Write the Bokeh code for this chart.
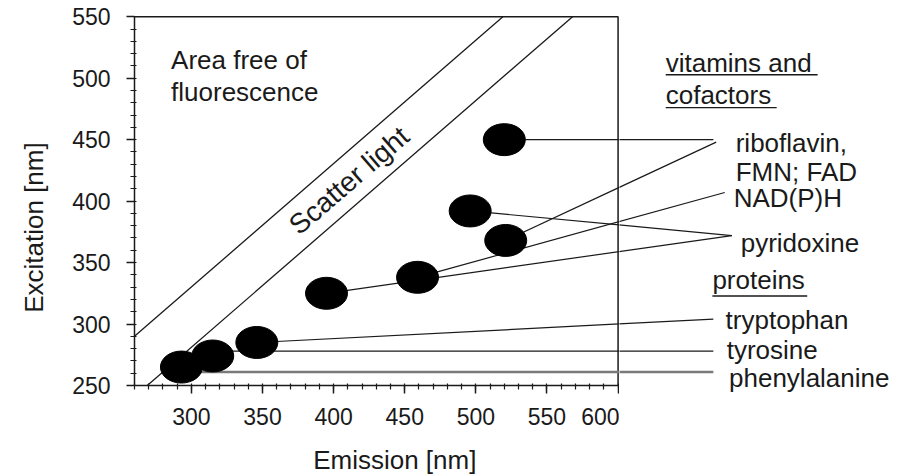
import math
from bokeh.plotting import figure
from bokeh.layouts import row, column
from bokeh.models import Range1d, SingleIntervalTicker, Label
from bokeh.embed import file_html
from bokeh.resources import INLINE

# ---------------- data ----------------
compounds = ["phenylalanine", "tyrosine", "tryptophan", "pyridoxine",
             "NAD(P)H", "pyridoxine", "riboflavin", "riboflavin"]
emission_nm = [293, 315, 346, 395, 459, 496, 521, 520]
excitation_nm = [265, 274, 285, 325, 338, 392, 368, 450]

# leader lines: from each spot to its label
leader_y0 = [261, 278, 285, 325, 338, 392, 368, 450]
leader_x1 = [667, 667, 667, 680, 675, 680, 669, 667]
leader_y1 = [261, 278, 304, 372, 407, 372, 448, 450]

# scatter-light band
scatter_upper_x = [260, 519]
scatter_upper_y = [290, 550]
scatter_lower_x = [269, 568]
scatter_lower_y = [250, 550]

# frame of the plotting area (top and right sides)
frame_x = [260, 600, 600]
frame_y = [550, 550, 250]

x_bounds = (260, 600)
y_bounds = (250, 550)

# text annotations inside the plot: (text, x, baseline y)
inner_text = [
    ("Area free of", 285.7, 507.5),
    ("fluorescence", 285.7, 481.7),
]
# labels on the right: (text, x, baseline y)
side_text = [
    ("vitamins and", 633.5, 505.3),
    ("cofactors", 633.5, 479.0),
    ("riboflavin,", 682.7, 439.7),
    ("FMN; FAD", 682.7, 416.7),
    ("NAD(P)H", 681.3, 395.5),
    ("pyridoxine", 686.2, 358.4),
    ("proteins", 666.3, 328.6),
    ("tryptophan", 675.6, 296.1),
    ("tyrosine", 676.4, 271.7),
    ("phenylalanine", 678.0, 248.6),
]
underline_x0 = [633.5, 633.5, 666.3]
underline_x1 = [740.3, 711.5, 733.0]
underline_y = [502.8, 476.0, 322.8]

x_title = "Emission [nm]"
y_title = "Excitation [nm]"
x_title_center = 443      # emission value under which the title is centred
y_title_center = 378.5    # excitation value beside which the title is centred

FONT = "Liberation Sans"
INK = "#1a1a1a"
FS = "26px"

# ---------------- layout geometry ----------------
H = 474
TOP = 15             # frame top (px)
FRAME_H = 370        # chart frame height (px)
W0 = 60              # strip holding the y title
LEFT = 134 - W0      # chart border left of frame
W1 = 619 - W0        # chart figure width
W2 = 908 - W0 - W1   # label figure width
P_BOTTOM = 50
H1 = TOP + FRAME_H + P_BOTTOM
HB = H - H1          # strip holding the x title
X0, X_SPLIT = 260, 601
Y0, Y1 = 250, 551
px_per_x = (W1 - LEFT) / (X_SPLIT - X0)
px_per_y = FRAME_H / (Y1 - Y0)
MID = 9              # px between baseline and middle of a 26px line


def bare(fig):
    fig.outline_line_color = None
    fig.grid.visible = False
    fig.background_fill_color = "white"
    fig.border_fill_color = "white"
    fig.frame_align = False


def text(fig, txt, x, y_base, **kw):
    fig.add_layout(Label(x=x, y=y_base + MID / px_per_y, text=txt,
                         text_font=FONT, text_font_size=FS, text_color=INK,
                         text_baseline="middle", text_align="left", **kw))


def leaders(fig):
    colors = ["#7a7a7a"] + [INK] * (len(compounds) - 1)
    widths = [2.6] + [1.2] * (len(compounds) - 1)
    fig.segment(x0=emission_nm, y0=leader_y0, x1=leader_x1, y1=leader_y1,
                line_color=colors, line_width=widths)


# ---------------- chart figure ----------------
p = figure(width=W1, height=H1,
           x_range=Range1d(X0, X_SPLIT), y_range=Range1d(Y0, Y1),
           output_backend="svg", toolbar_location=None,
           min_border_left=LEFT, min_border_right=0,
           min_border_top=TOP, min_border_bottom=P_BOTTOM)
bare(p)

for ax, b in ((p.xaxis[0], x_bounds), (p.yaxis[0], y_bounds)):
    ax.bounds = b
    ax.ticker = SingleIntervalTicker(interval=50, num_minor_ticks=5)
    ax.axis_line_width = 1.5
    ax.axis_line_color = INK
    ax.major_tick_line_color = INK
    ax.minor_tick_line_color = INK
    ax.major_tick_line_width = 1.5
    ax.minor_tick_line_width = 1.2
    ax.major_tick_out = 8
    ax.major_tick_in = 0
    ax.minor_tick_out = 4
    ax.minor_tick_in = 2
    ax.major_label_text_font = FONT
    ax.major_label_text_font_size = "23px"
    ax.major_label_text_color = INK
p.xaxis.major_label_standoff = 14
p.yaxis.major_label_standoff = 16

p.line(frame_x, frame_y, line_color=INK, line_width=1.5)
p.line(scatter_upper_x, scatter_upper_y, line_color=INK, line_width=1.3)
p.line(scatter_lower_x, scatter_lower_y, line_color=INK, line_width=1.3)
leaders(p)
p.ellipse(x=emission_nm, y=excitation_nm, width=42, height=32,
          width_units="screen", height_units="screen",
          fill_color="black", line_color="black")

for txt, x, y in inner_text:
    text(p, txt, x, y)
p.add_layout(Label(x=410.8, y=416.7, text="Scatter light", text_font=FONT,
                   text_font_size="28px", text_color=INK,
                   text_baseline="middle", text_align="center",
                   angle=math.atan(px_per_y / px_per_x)))

# ---------------- strip below the chart: x title ----------------
fb = figure(width=W1, height=HB, x_range=Range1d(X0, X_SPLIT),
            y_range=Range1d(0, HB), output_backend="svg",
            toolbar_location=None, x_axis_location=None, y_axis_location=None,
            min_border_left=LEFT, min_border_right=0,
            min_border_top=0, min_border_bottom=0)
bare(fb)
fb.add_layout(Label(x=x_title_center, y=H - 468 + MID, text=x_title,
                    text_font=FONT, text_font_size=FS, text_color=INK,
                    text_baseline="middle", text_align="center"))

# ---------------- strip left of the chart: y title ----------------
f0 = figure(width=W0, height=H,
            x_range=Range1d(0, W0),
            y_range=Range1d(Y1 - (H - TOP) / px_per_y, Y1),
            output_backend="svg", toolbar_location=None,
            x_axis_location=None, y_axis_location=None,
            min_border_left=0, min_border_right=0,
            min_border_top=TOP, min_border_bottom=0)
bare(f0)
f0.add_layout(Label(x=42 - MID, y=y_title_center, text=y_title,
                    text_font=FONT, text_font_size=FS, text_color=INK,
                    text_baseline="middle", text_align="center",
                    angle=math.pi / 2))

# ---------------- label figure (continues the same scales) ----------------
q = figure(width=W2, height=H,
           x_range=Range1d(X_SPLIT, X_SPLIT + W2 / px_per_x),
           y_range=Range1d(Y1 - (H - TOP) / px_per_y, Y1),
           output_backend="svg", toolbar_location=None,
           x_axis_location=None, y_axis_location=None,
           min_border_left=0, min_border_right=0,
           min_border_top=TOP, min_border_bottom=0)
bare(q)
leaders(q)
q.segment(x0=underline_x0, y0=underline_y, x1=underline_x1, y1=underline_y,
          line_color=INK, line_width=1.3)
for txt, x, y in side_text:
    text(q, txt, x, y)

layout = row(f0, column(p, fb, spacing=0), q, spacing=0)
open("out.html", "w").write(file_html(layout, INLINE))
